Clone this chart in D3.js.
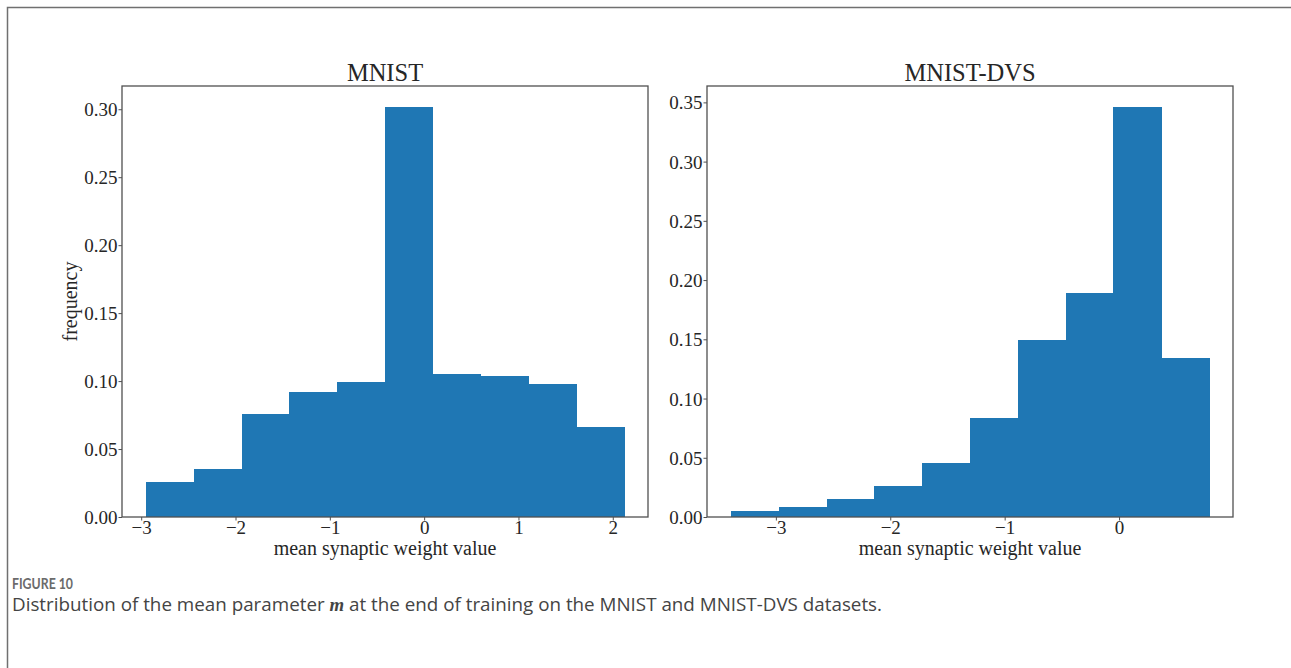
<!DOCTYPE html>
<html>
<head>
<meta charset="utf-8">
<script src="https://cdn.jsdelivr.net/npm/d3@7"></script>
<style>
  html, body { margin: 0; padding: 0; background: #fff; }
  svg { display: block; }
</style>
</head>
<body>
<svg id="fig" width="1291" height="668"></svg>
<script>
// Histogram bin edges and normalised bin frequencies (weights sum to 1)
const mnistEdges = [-2.95, -2.443, -1.936, -1.429, -0.922, -0.415, 0.092, 0.599, 1.106, 1.613, 2.12];
const mnistFreq  = [0.0255, 0.0353, 0.076, 0.092, 0.0993, 0.302, 0.105, 0.1037, 0.0978, 0.0662];

const dvsEdges = [-3.393, -2.975, -2.557, -2.139, -1.721, -1.303, -0.885, -0.467, -0.049, 0.369, 0.787];
const dvsFreq  = [0.005, 0.0087, 0.0155, 0.0261, 0.0455, 0.0835, 0.1495, 0.189, 0.3465, 0.1343];

// Tick values
const mnistXTicks = [-3, -2, -1, 0, 1, 2];
const mnistYTicks = [0, 0.05, 0.10, 0.15, 0.20, 0.25, 0.30];
const dvsXTicks = [-3, -2, -1, 0];
const dvsYTicks = [0, 0.05, 0.10, 0.15, 0.20, 0.25, 0.30, 0.35];

const panelTitles = ["MNIST", "MNIST-DVS"];
const xLabel = "mean synaptic weight value";
const yLabel = "frequency";

const BAR = "#1f77b4";
const SPINE = "#505050";
const SERIF = "'Liberation Serif', 'DejaVu Serif', serif";

const svg = d3.select("#fig");

// Outer figure frame (left and top rules)
svg.append("path")
  .attr("d", "M7.5,668 L7.5,7.5 L1291,7.5")
  .attr("fill", "none")
  .attr("stroke", "#707070")
  .attr("stroke-width", 1.5);

function drawPanel(opts) {
  const { left, right, top, bottom, edges, freq, xTicks, yTicks, title, showYLabel } = opts;
  const lo = edges[0], hi = edges[edges.length - 1];
  const pad = (hi - lo) * 0.05;
  const x = d3.scaleLinear().domain([lo - pad, hi + pad]).range([left, right]);
  const y = d3.scaleLinear().domain([0, d3.max(freq) * 1.05]).range([bottom, top]);

  const g = svg.append("g");

  const bins = freq.map((f, i) => ({ x0: edges[i], x1: edges[i + 1], f }));
  g.append("g").attr("shape-rendering", "crispEdges")
    .selectAll("rect.bar").data(bins).join("rect")
    .attr("class", "bar")
    .attr("x", d => x(d.x0))
    .attr("width", d => x(d.x1) - x(d.x0) + 0.5)
    .attr("y", d => y(d.f))
    .attr("height", d => y(0) - y(d.f))
    .attr("fill", BAR);

  const fmtX = d => (d < 0 ? "\u2212" + Math.abs(d) : String(d));
  const xAxis = d3.axisBottom(x).tickValues(xTicks).tickSize(3.5).tickPadding(1).tickFormat(fmtX);
  const yAxis = d3.axisLeft(y).tickValues(yTicks).tickSize(3.5).tickPadding(1).tickFormat(d3.format(".2f"));

  const gx = g.append("g").attr("transform", `translate(0,${bottom})`).call(xAxis);
  const gy = g.append("g").attr("transform", `translate(${left},0)`).call(yAxis);
  [gx, gy].forEach(a => {
    a.select(".domain").remove();
    a.selectAll(".tick line").attr("stroke", SPINE).attr("stroke-width", 1);
    a.selectAll(".tick text")
      .attr("fill", "#262626")
      .style("font-family", SERIF)
      .style("font-size", "19px");
  });
  gx.selectAll(".tick text").attr("dy", "0.68em");
  gy.selectAll(".tick text").attr("dy", "0.34em");

  // Axes frame
  g.append("rect")
    .attr("x", left).attr("y", top)
    .attr("width", right - left).attr("height", bottom - top)
    .attr("fill", "none")
    .attr("stroke", SPINE)
    .attr("stroke-width", 1.3);

  g.append("text")
    .attr("x", (left + right) / 2).attr("y", top - 5)
    .attr("text-anchor", "middle")
    .style("font-family", SERIF).style("font-size", "24.5px")
    .attr("fill", "#262626")
    .text(title);

  g.append("text")
    .attr("x", (left + right) / 2).attr("y", bottom + 38)
    .attr("text-anchor", "middle")
    .style("font-family", SERIF).style("font-size", "20px")
    .attr("fill", "#262626")
    .text(xLabel);

  if (showYLabel) {
    g.append("text")
      .attr("transform", `translate(${left - 45},${(top + bottom) / 2}) rotate(-90)`)
      .attr("text-anchor", "middle")
      .style("font-family", SERIF).style("font-size", "20px")
      .attr("fill", "#262626")
      .text(yLabel);
  }
}

drawPanel({ left: 122, right: 648, top: 86, bottom: 517,
  edges: mnistEdges, freq: mnistFreq, xTicks: mnistXTicks, yTicks: mnistYTicks,
  title: panelTitles[0], showYLabel: true });

drawPanel({ left: 707, right: 1233, top: 86, bottom: 517,
  edges: dvsEdges, freq: dvsFreq, xTicks: dvsXTicks, yTicks: dvsYTicks,
  title: panelTitles[1], showYLabel: false });

// Caption
const SANS = "'Open Sans', Lato, sans-serif";
svg.append("text")
  .attr("x", 12).attr("y", 588.5)
  .style("font-family", "Lato, 'Open Sans', sans-serif").style("font-size", "16px").style("font-weight", 700)
  .attr("fill", "#6b6b6b")
  .attr("textLength", 61).attr("lengthAdjust", "spacingAndGlyphs")
  .text("FIGURE 10");

const cap = svg.append("text")
  .attr("x", 12).attr("y", 611)
  .style("font-family", SANS).style("font-size", "17px")
  .attr("fill", "#444444");
cap.append("tspan").text("Distribution of the mean parameter ");
cap.append("tspan")
  .style("font-family", SERIF).style("font-style", "italic").style("font-weight", 700)
  .text("m");
cap.append("tspan").text(" at the end of training on the MNIST and MNIST-DVS datasets.");

// Size the caption so that its line runs to the same right margin
const capW = cap.node().getComputedTextLength();
const capSize = Math.max(14, Math.min(20, 17 * 871 / capW));
cap.style("font-size", capSize + "px");
</script>
</body>
</html>
